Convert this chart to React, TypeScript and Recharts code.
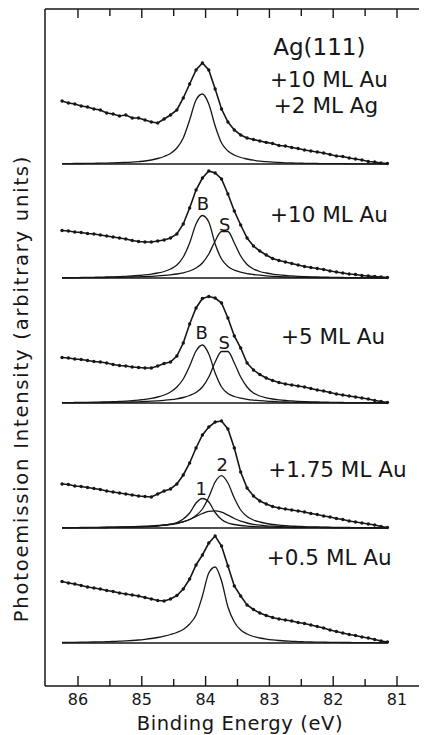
import React from 'react';
import { ComposedChart, Line, XAxis, YAxis, ReferenceDot } from 'recharts';

// Binding energy grid (eV)
const energies = [86.25, 86.15, 86.05, 85.95, 85.85, 85.75, 85.65, 85.55, 85.45, 85.35, 85.25, 85.15, 85.05, 84.95, 84.85, 84.75, 84.65, 84.55, 84.45, 84.35, 84.25, 84.15, 84.05, 83.95, 83.85, 83.75, 83.65, 83.55, 83.45, 83.35, 83.25, 83.15, 83.05, 82.95, 82.85, 82.75, 82.65, 82.55, 82.45, 82.35, 82.25, 82.15, 82.05, 81.95, 81.85, 81.75, 81.65, 81.55, 81.45, 81.35, 81.25, 81.15];

// Panel 1: +10 ML Au +2 ML Ag
const ag2Data = [63, 61, 60, 58, 57, 55, 54, 51, 50, 48, 49, 46, 46, 44, 42, 41, 45, 49, 54, 66, 80, 94, 101, 94, 75, 55, 42, 34, 29, 26, 24.5, 23, 21.6, 20.5, 18.5, 18, 16.5, 15.5, 14, 13, 12, 11, 9.5, 8, 7.5, 6, 5, 4, 2.5, 2, 1, 0.5];
const ag2Fit = [0.3, 0.4, 0.5, 0.5, 0.6, 0.7, 0.8, 0.9, 1.1, 1.3, 1.6, 1.9, 2.4, 3, 4, 5.5, 7.5, 10.5, 16, 26, 44, 64, 70, 60, 38, 21, 13, 9, 6.5, 5, 3.8, 2.9, 2.3, 1.8, 1.5, 1.2, 1, 0.8, 0.7, 0.6, 0.5, 0.4, 0.4, 0.3, 0.3, 0.2, 0.2, 0.2, 0.1, 0.1, 0.1, 0];

// Panel 2: +10 ML Au
const au10Data = [47.5, 47, 46, 45.5, 44.5, 44, 43, 42, 41, 40, 39, 37.5, 36.5, 36, 36, 37, 38, 40, 44, 54, 70, 88, 100, 107, 105, 99, 84, 67, 53, 40, 32, 27, 23, 19.5, 17.5, 16, 14.5, 13, 11.5, 10.5, 9.5, 8.5, 7, 6, 5, 4, 3.5, 2.5, 2, 1.5, 1, 0.5];
const au10FitB = [0.3, 0.4, 0.4, 0.5, 0.6, 0.7, 0.8, 1, 1.2, 1.4, 1.7, 2, 2.5, 3.1, 3.9, 5, 6.5, 9, 13, 21, 35, 54, 62.5, 56, 34, 19, 11.5, 7.8, 5.8, 4.4, 3.5, 2.8, 2.2, 1.7, 1.3, 1, 0.8, 0.7, 0.6, 0.5, 0.4, 0.4, 0.3, 0.3, 0.2, 0.2, 0.2, 0.1, 0.1, 0.1, 0, 0];
const au10FitS = [0.2, 0.2, 0.3, 0.3, 0.3, 0.4, 0.4, 0.5, 0.6, 0.7, 0.8, 1, 1.2, 1.4, 1.7, 2.1, 2.6, 3.2, 4, 5.2, 7, 10, 15, 24, 37, 46.5, 46.5, 35, 22, 13.5, 9, 6.5, 5, 3.9, 3.1, 2.5, 2.1, 1.7, 1.4, 1.2, 1, 0.8, 0.7, 0.6, 0.5, 0.4, 0.4, 0.3, 0.3, 0.2, 0.2, 0.2];

// Panel 3: +5 ML Au
const au5Data = [45.5, 45, 44, 43.5, 42.5, 41.5, 41, 40, 38.5, 37.5, 37, 36, 35.5, 35, 35, 37, 39.5, 41, 47, 60, 79, 95, 104.5, 106.5, 105, 100, 85, 67, 55, 40, 33, 28.5, 25, 22.5, 20.5, 19, 18, 17, 16, 14.5, 13, 12, 10.5, 9, 8, 7, 6, 5, 4, 2.5, 1.5, 0.5];
const au5FitB = [0.4, 0.4, 0.5, 0.6, 0.7, 0.8, 0.9, 1.1, 1.3, 1.6, 1.9, 2.3, 2.9, 3.6, 4.6, 6, 8, 11, 16, 24, 37, 52, 58, 49, 30, 16, 9.5, 6.5, 4.8, 3.7, 2.9, 2.3, 1.9, 1.5, 1.2, 1, 0.8, 0.7, 0.6, 0.5, 0.4, 0.4, 0.3, 0.3, 0.2, 0.2, 0.2, 0.1, 0.1, 0.1, 0.1, 0];
const au5FitS = [0.2, 0.3, 0.3, 0.3, 0.4, 0.4, 0.5, 0.6, 0.7, 0.8, 0.9, 1, 1.2, 1.5, 1.8, 2.2, 2.7, 3.3, 4.2, 5.5, 7.5, 10.5, 16, 26, 41, 51.5, 51.5, 40, 26, 16, 10, 7, 5.2, 4, 3.1, 2.5, 2.1, 1.7, 1.4, 1.2, 1, 0.8, 0.7, 0.6, 0.5, 0.4, 0.4, 0.3, 0.3, 0.2, 0.2, 0.2];

// Panel 4: +1.75 ML Au
const au175Data = [44, 43.5, 42, 41.5, 40.5, 39.5, 38.5, 37, 36, 35, 34, 33, 32, 31.5, 31, 34, 37, 39, 44, 53, 65, 80, 93, 101, 106, 107, 99, 80, 56, 40, 32, 27, 24, 21.5, 20, 19, 18, 17, 16, 14.5, 13.5, 12, 11, 9.5, 8.5, 7, 6, 5, 4, 3, 1.5, 0.5];
const au175Fit1 = [0.2, 0.2, 0.3, 0.3, 0.3, 0.4, 0.4, 0.5, 0.6, 0.7, 0.8, 0.9, 1.1, 1.3, 1.6, 2.1, 2.8, 3.8, 5.5, 9, 15, 25, 29.5, 26, 15.5, 8.5, 5, 3.5, 2.5, 1.9, 1.5, 1.2, 1, 0.8, 0.7, 0.6, 0.5, 0.5, 0.4, 0.4, 0.3, 0.3, 0.3, 0.2, 0.2, 0.2, 0.1, 0.1, 0.1, 0.1, 0.1, 0.1];
const au175Fit2 = [0.3, 0.4, 0.4, 0.5, 0.5, 0.6, 0.7, 0.8, 0.9, 1, 1.1, 1.3, 1.5, 1.8, 2.1, 2.5, 3, 3.8, 4.8, 6.3, 8.5, 12.5, 19, 31, 46, 52.3, 45, 30, 18, 11.5, 8, 6, 4.5, 3.5, 2.8, 2.3, 1.9, 1.6, 1.3, 1.1, 1, 0.8, 0.7, 0.6, 0.5, 0.5, 0.4, 0.4, 0.3, 0.3, 0.2, 0.2];
const au175Fit3 = [0.2, 0.3, 0.3, 0.3, 0.4, 0.4, 0.5, 0.5, 0.6, 0.7, 0.8, 0.9, 1.1, 1.3, 1.6, 2, 2.6, 3.3, 4.4, 6, 8.5, 11.5, 14.5, 16.7, 17.2, 15.8, 12.8, 9.5, 6.8, 5, 3.7, 2.8, 2.2, 1.8, 1.5, 1.2, 1, 0.9, 0.8, 0.7, 0.6, 0.5, 0.5, 0.4, 0.4, 0.3, 0.3, 0.3, 0.2, 0.2, 0.2, 0.1];

// Panel 5: +0.5 ML Au
const au05Data = [61.5, 60, 59, 57.5, 56, 55, 54, 52.5, 51.5, 50, 49, 48, 47, 45.5, 44, 42.5, 42, 44, 47.5, 54, 64, 78, 88, 100, 107, 97, 77, 57, 47, 38, 33.5, 30, 27.5, 25.5, 24, 23, 22, 20.5, 19.5, 18, 16.5, 15, 13, 11.5, 10, 8.5, 7.5, 6, 5, 3.5, 2, 1];
const au05Fit = [0.5, 0.6, 0.7, 0.8, 0.9, 1, 1.1, 1.3, 1.5, 1.8, 2.1, 2.5, 3, 3.7, 4.5, 5.5, 6.8, 8.5, 10.5, 13.5, 19, 28, 47, 70, 76, 62, 36, 21, 13, 9, 6.5, 5, 3.9, 3.1, 2.5, 2, 1.7, 1.4, 1.2, 1, 0.9, 0.8, 0.7, 0.6, 0.5, 0.5, 0.4, 0.4, 0.3, 0.3, 0.2, 0.2];

// vertical stacking offsets of each spectrum (arbitrary units)
const stackOffsets = [522, 408, 283, 158, 43];

const xTicks = [86, 85.5, 85, 84.5, 84, 83.5, 83, 82.5, 82, 81.5, 81];
const X_DOMAIN: [number, number] = [80.53, 86.517];
const Y_MAX = 677;

// annotations (energy, intensity level)
const annotationText = ['Ag(111)', '+10 ML Au', '+2 ML Ag', '+10 ML Au', '+5 ML Au', '+1.75 ML Au', '+0.5 ML Au', 'B', 'S', 'B', 'S', '1', '2'];
const annotationEnergy = [82.94, 82.99, 82.93, 82.99, 82.82, 83.02, 83.04, 84.04, 83.70, 84.06, 83.71, 84.07, 83.74];
const annotationLevel = [639, 607, 581, 472, 350, 217, 129, 483, 462, 354, 344, 198, 222];

const panels = [
  { data: ag2Data, fits: [ag2Fit] },
  { data: au10Data, fits: [au10FitB, au10FitS] },
  { data: au5Data, fits: [au5FitB, au5FitS] },
  { data: au175Data, fits: [au175Fit1, au175Fit2, au175Fit3] },
  { data: au05Data, fits: [au05Fit] },
];

const rows = energies.map((e, i) => {
  const row: Record<string, number> = { e };
  panels.forEach((p, k) => {
    const off = stackOffsets[k];
    row[`base${k}`] = off;
    row[`data${k}`] = off + p.data[i];
    p.fits.forEach((f, j) => {
      row[`fit${k}_${j}`] = off + f[i];
    });
  });
  return row;
});

const CHART_H = 727;
const MARGIN = { top: 1, right: 0, bottom: 48, left: 36 };
const PLOT_H = CHART_H - MARGIN.top - MARGIN.bottom - 1;

const INK = '#161616';
const FONT = '"DejaVu Sans", "Open Sans", sans-serif';

const FrameTick = (props: any) => {
  const { x, y, payload } = props;
  const major = Number.isInteger(payload.value);
  const topY = y - PLOT_H;
  return (
    <g>
      <line x1={x} x2={x} y1={y} y2={y - (major ? 10 : 7)} stroke={INK} strokeWidth={1.4} />
      <line x1={x} x2={x} y1={topY} y2={topY + (major ? 9 : 7)} stroke={INK} strokeWidth={1.4} />
      {major && (
        <text x={x} y={y + 19} textAnchor="middle" fontFamily={FONT} fontSize={16} fill={INK}>
          {payload.value}
        </text>
      )}
    </g>
  );
};

const XTitle = (props: any) => {
  const vb = props.viewBox || {};
  const x0 = vb.x ?? 37;
  const w = vb.width ?? 382;
  const yb = vb.y ?? 678;
  return (
    <g>
      <line x1={x0} x2={x0 + w} y1={yb - PLOT_H} y2={yb - PLOT_H} stroke={INK} strokeWidth={1.5} />
      <text x={x0 + w / 2 + 4} y={yb + 44} textAnchor="middle" fontFamily={FONT} fontSize={19.5} letterSpacing={0.6} fill={INK}>
        Binding Energy (eV)
      </text>
    </g>
  );
};

const YTitle = (props: any) => {
  const vb = props.viewBox || {};
  const cx = (vb.x ?? 36) + (vb.width ?? 1) - 24;
  const cy = (vb.y ?? 1) + (vb.height ?? 677) / 2 + 41;
  return (
    <text x={cx} y={cy} transform={`rotate(-90 ${cx} ${cy})`} textAnchor="middle" dominantBaseline="central" fontFamily={FONT} fontSize={19.5} letterSpacing={1.8} fill={INK}>
      Photoemission Intensity (arbitrary units)
    </text>
  );
};

export default function App() {
  return (
    <div style={{ width: 419, height: CHART_H, background: '#fff' }}>
      <ComposedChart width={419} height={CHART_H} data={rows} margin={MARGIN}>
        <XAxis
          xAxisId="bottom"
          dataKey="e"
          type="number"
          domain={X_DOMAIN}
          reversed
          allowDataOverflow
          ticks={xTicks}
          interval={0}
          tickLine={false}
          tickSize={0}
          tickMargin={0}
          height={1}
          axisLine={{ stroke: INK, strokeWidth: 1.5 }}
          tick={(p: any) => <FrameTick {...p} />}
          label={<XTitle />}
        />
        <YAxis
          yAxisId="y"
          type="number"
          domain={[0, Y_MAX]}
          allowDataOverflow
          width={1}
          tick={false}
          tickLine={false}
          axisLine={{ stroke: INK, strokeWidth: 1.5 }}
          label={<YTitle />}
        />
        {panels.map((p, k) => (
          <Line
            key={`base${k}`}
            xAxisId="bottom"
            yAxisId="y"
            dataKey={`base${k}`}
            type="linear"
            stroke={INK}
            strokeWidth={1.3}
            dot={false}
            isAnimationActive={false}
          />
        ))}
        {panels.map((p, k) =>
          p.fits.map((f, j) => (
            <Line
              key={`fit${k}_${j}`}
              xAxisId="bottom"
              yAxisId="y"
              dataKey={`fit${k}_${j}`}
              type="monotone"
              stroke={INK}
              strokeWidth={1.3}
              dot={false}
              isAnimationActive={false}
            />
          ))
        )}
        {panels.map((p, k) => (
          <Line
            key={`data${k}`}
            xAxisId="bottom"
            yAxisId="y"
            dataKey={`data${k}`}
            type="linear"
            stroke={INK}
            strokeWidth={1.6}
            dot={{ r: 1.7, fill: INK, stroke: 'none' }}
            isAnimationActive={false}
          />
        ))}
        {annotationText.map((t, i) => {
          const big = i < 7;
          return (
            <ReferenceDot
              key={`ann${i}`}
              xAxisId="bottom"
              yAxisId="y"
              x={annotationEnergy[i]}
              y={annotationLevel[i]}
              r={0}
              ifOverflow="visible"
              shape={(sp: any) => (
                <text
                  x={sp.cx}
                  y={sp.cy}
                  textAnchor={big ? 'start' : 'middle'}
                  dominantBaseline="central"
                  fontFamily={FONT}
                  fontSize={i === 0 ? 23 : big ? 21.5 : 18}
                  fill={INK}
                >
                  {t}
                </text>
              )}
            />
          );
        })}
      </ComposedChart>
    </div>
  );
}
